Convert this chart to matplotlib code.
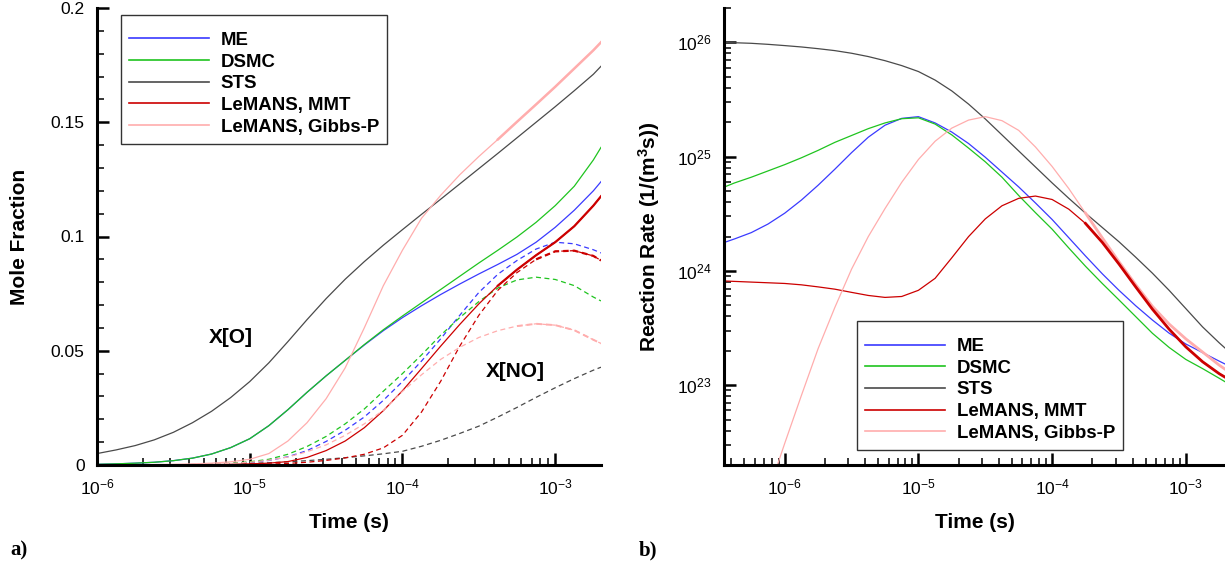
import numpy as np
import matplotlib
matplotlib.use('Agg')
import matplotlib.pyplot as plt
from matplotlib.ticker import MultipleLocator, FuncFormatter, LogLocator, NullFormatter

plt.rcParams['font.family'] = ['Liberation Sans', 'DejaVu Sans']
plt.rcParams['mathtext.fontset'] = 'custom'
plt.rcParams['mathtext.rm'] = 'Liberation Sans'
plt.rcParams['mathtext.it'] = 'Liberation Sans:italic'
plt.rcParams['mathtext.bf'] = 'Liberation Sans:bold'

labels = ['ME', 'DSMC', 'STS', 'LeMANS, MMT', 'LeMANS, Gibbs-P']
colors = ['#3a3aff', '#1fc41f', '#4a4a4a', '#cc0000', '#ffadad']

# a) mole fractions, time given as log10(t)
logt_a = [-6, -5.875, -5.75, -5.625, -5.5, -5.375, -5.25, -5.125, -5.0, -4.875, -4.75, -4.625, -4.5, -4.375,
          -4.25, -4.125, -4.0, -3.875, -3.75, -3.625, -3.5, -3.375, -3.25, -3.125, -3.0, -2.875, -2.75, -2.7]
xo_me = [0.0003, 0.0005, 0.0008, 0.0012, 0.0019, 0.003, 0.0048, 0.0076, 0.0115, 0.0172, 0.0242, 0.0318, 0.039, 0.0458,
         0.0525, 0.0588, 0.0645, 0.0697, 0.0746, 0.0792, 0.0836, 0.0878, 0.0922, 0.0975, 0.1040, 0.1115, 0.1200, 0.1240]
xo_dsmc = [0.0003, 0.0005, 0.0008, 0.0012, 0.0019, 0.003, 0.0048, 0.0076, 0.0115, 0.0172, 0.0242, 0.0318, 0.039, 0.0458,
           0.0527, 0.0592, 0.0652, 0.0710, 0.0768, 0.0826, 0.0884, 0.0940, 0.0998, 0.1062, 0.1135, 0.1220, 0.1335, 0.1390]
xo_sts = [0.005, 0.0066, 0.0085, 0.011, 0.0143, 0.0185, 0.0235, 0.0295, 0.0365, 0.0447, 0.054, 0.0636, 0.0728, 0.0813,
          0.0890, 0.0962, 0.1030, 0.1097, 0.1163, 0.1230, 0.1297, 0.1364, 0.1432, 0.1500, 0.1568, 0.1638, 0.1710, 0.1745]
xo_mmt = [0, 0, 0, 0, 0.0001, 0.0001, 0.0002, 0.0003, 0.0005, 0.0008, 0.0015, 0.0033, 0.0063, 0.0105,
          0.0163, 0.0238, 0.0325, 0.0422, 0.0520, 0.0615, 0.0705, 0.0785, 0.0855, 0.0918, 0.0975, 0.1045, 0.1135, 0.1176]
xo_gibbs = [0, 0, 0.0001, 0.0002, 0.0003, 0.0005, 0.0008, 0.0014, 0.0025, 0.0050, 0.0105, 0.0185, 0.0290, 0.0425,
            0.0600, 0.0785, 0.0940, 0.1080, 0.1180, 0.1270, 0.1350, 0.1425, 0.1502, 0.1578, 0.1655, 0.1735, 0.1815, 0.1850]

xno_me = [0, 0, 0, 0, 0, 0.0001, 0.0003, 0.0006, 0.0011, 0.002, 0.0036, 0.0063, 0.0103, 0.0152,
          0.0210, 0.0283, 0.0365, 0.0455, 0.0552, 0.0655, 0.0755, 0.0835, 0.0895, 0.0945, 0.0975, 0.0968, 0.0942, 0.0928]
xno_dsmc = [0, 0, 0, 0.0001, 0.0001, 0.0002, 0.0004, 0.0008, 0.0014, 0.0025, 0.0047, 0.0081, 0.0125, 0.0180,
            0.0245, 0.0323, 0.0400, 0.0482, 0.0568, 0.0645, 0.0715, 0.0775, 0.0810, 0.0822, 0.0812, 0.0785, 0.0735, 0.0718]
xno_sts = [0, 0, 0, 0.0001, 0.0001, 0.0002, 0.0003, 0.0005, 0.0007, 0.001, 0.0014, 0.0019, 0.0025, 0.0032,
           0.0040, 0.0049, 0.0060, 0.0082, 0.0108, 0.0138, 0.0170, 0.0210, 0.0252, 0.0296, 0.0338, 0.0378, 0.0415, 0.0428]
xno_mmt = [0, 0, 0, 0, 0, 0, 0, 0.0001, 0.0002, 0.0004, 0.0007, 0.0012, 0.0020, 0.0031,
           0.0047, 0.0075, 0.0130, 0.0232, 0.0366, 0.0520, 0.0655, 0.0765, 0.0842, 0.0900, 0.0935, 0.0938, 0.0915, 0.0895]
xno_gibbs = [0, 0, 0, 0.0001, 0.0001, 0.0002, 0.0004, 0.0007, 0.0012, 0.0021, 0.0035, 0.0058, 0.0088, 0.0130,
             0.0180, 0.0240, 0.0322, 0.0395, 0.0462, 0.0515, 0.0558, 0.0588, 0.0608, 0.0618, 0.0612, 0.0590, 0.0548, 0.0532]

# b) reaction rates, log10(t) and log10(rate)
logt_b = [-6.454, -6.375, -6.25, -6.125, -6.0, -5.875, -5.75, -5.625, -5.5, -5.375, -5.25, -5.125, -5.0, -4.875, -4.75, -4.625,
          -4.5, -4.375, -4.25, -4.125, -4.0, -3.875, -3.75, -3.625, -3.5, -3.375, -3.25, -3.125, -3.0, -2.875, -2.75, -2.707]
logr_me = [24.248, 24.28, 24.335, 24.41, 24.505, 24.62, 24.75, 24.89, 25.035, 25.17, 25.275, 25.335, 25.35, 25.295, 25.215, 25.115,
           24.995, 24.865, 24.735, 24.595, 24.45, 24.29, 24.13, 23.975, 23.83, 23.695, 23.57, 23.455, 23.36, 23.285, 23.21, 23.185]
logr_dsmc = [24.733, 24.77, 24.82, 24.875, 24.93, 24.99, 25.055, 25.125, 25.185, 25.245, 25.295, 25.332, 25.34, 25.285, 25.19, 25.075,
             24.955, 24.82, 24.66, 24.51, 24.365, 24.2, 24.04, 23.89, 23.746, 23.6, 23.454, 23.33, 23.225, 23.145, 23.06, 23.03]
logr_sts = [26.0, 25.997, 25.992, 25.983, 25.972, 25.96, 25.945, 25.928, 25.905, 25.876, 25.840, 25.797, 25.745, 25.670, 25.575, 25.46,
            25.33, 25.19, 25.05, 24.91, 24.77, 24.635, 24.505, 24.38, 24.255, 24.12, 23.98, 23.83, 23.67, 23.51, 23.37, 23.325]
logr_mmt = [23.912, 23.908, 23.902, 23.896, 23.89, 23.878, 23.86, 23.84, 23.812, 23.785, 23.768, 23.776, 23.83, 23.935, 24.115, 24.3,
            24.455, 24.57, 24.635, 24.655, 24.625, 24.54, 24.415, 24.25, 24.06, 23.86, 23.665, 23.49, 23.335, 23.205, 23.1, 23.07]
logt_b_gibbs = [-6.055, -6.0, -5.875, -5.75, -5.625, -5.5, -5.375, -5.25, -5.125, -5.0, -4.875, -4.75, -4.625, -4.5, -4.375,
                -4.25, -4.125, -4.0, -3.875, -3.75, -3.625, -3.5, -3.375, -3.25, -3.125, -3.0, -2.875, -2.75, -2.707]
logr_gibbs = [22.30, 22.49, 22.91, 23.32, 23.68, 24.015, 24.30, 24.545, 24.775, 24.975, 25.135, 25.25, 25.32, 25.35, 25.315,
              25.23, 25.085, 24.914, 24.72, 24.505, 24.29, 24.08, 23.88, 23.69, 23.535, 23.405, 23.29, 23.175, 23.14]

t_a = 10.0 ** np.array(logt_a)
t_b = 10.0 ** np.array(logt_b)
t_bg = 10.0 ** np.array(logt_b_gibbs)
rate = [10.0 ** np.array(r) for r in (logr_me, logr_dsmc, logr_sts, logr_mmt)]
rate_gibbs = 10.0 ** np.array(logr_gibbs)

fig = plt.figure(figsize=(12.25, 5.65), dpi=100)
ax1 = fig.add_axes([97 / 1225, 100 / 565, 504 / 1225, 457 / 565])
ax2 = fig.add_axes([724 / 1225, 100 / 565, 501 / 1225, 457 / 565])

lw = 0.9
dash = (0, (4, 2.8))

o_series = [xo_me, xo_dsmc, xo_sts, xo_mmt, xo_gibbs]
no_series = [xno_me, xno_dsmc, xno_sts, xno_mmt, xno_gibbs]
handles = []
for i in range(5):
    h, = ax1.plot(t_a, o_series[i], color=colors[i], lw=lw, label=labels[i])
    ax1.plot(t_a, no_series[i], color=colors[i], lw=lw, linestyle=dash)
    handles.append(h)
# the LeMANS curves are drawn heavier at late times
ax1.plot(t_a[21:], xo_gibbs[21:], color=colors[4], lw=1.8)
ax1.plot(t_a[21:], xo_mmt[21:], color=colors[3], lw=1.6)
ax1.plot(t_a[23:], xno_mmt[23:], color=colors[3], lw=1.6, linestyle=(0, (2.5, 1.8)))
ax1.plot(t_a[22:], xno_gibbs[22:], color=colors[4], lw=1.4, linestyle=(0, (3, 2)))

ax1.set_xscale('log')
ax1.set_xlim(1e-6, 10 ** -2.7)
ax1.set_ylim(0, 0.2)
ax1.yaxis.set_major_locator(MultipleLocator(0.05))
ax1.yaxis.set_minor_locator(MultipleLocator(0.01))
ax1.yaxis.set_major_formatter(FuncFormatter(lambda v, p: '%g' % round(v, 3)))
ax1.text(10 ** -5.125, 0.056, 'X[O]', fontsize=15, fontweight='bold', ha='center', va='center')
ax1.text(10 ** -3.26, 0.041, 'X[NO]', fontsize=15, fontweight='bold', ha='center', va='center')
ax1.set_ylabel('Mole Fraction', fontsize=15, fontweight='bold')
ax1.set_xlabel('Time (s)', fontsize=15, fontweight='bold')

handles2 = []
for i in range(4):
    h, = ax2.plot(t_b, rate[i], color=colors[i], lw=lw, label=labels[i])
    handles2.append(h)
h, = ax2.plot(t_bg, rate_gibbs, color=colors[4], lw=lw, label=labels[4])
handles2.append(h)
ax2.plot(t_bg[19:], rate_gibbs[19:], color=colors[4], lw=2.0)
ax2.plot(t_b[22:], rate[3][22:], color=colors[3], lw=2.0)

ax2.set_xscale('log')
ax2.set_yscale('log')
ax2.set_xlim(10 ** -6.454, 10 ** -2.707)
ax2.set_ylim(2e22, 2e26)
ax2.set_ylabel(r'Reaction Rate (1/(m$^{\mathbf{3}}$s))', fontsize=15, fontweight='bold')
ax2.set_xlabel('Time (s)', fontsize=15, fontweight='bold')

for ax in (ax1, ax2):
    ax.spines['top'].set_visible(False)
    ax.spines['right'].set_visible(False)
    ax.spines['left'].set_linewidth(2.2)
    ax.spines['bottom'].set_linewidth(2.2)
    ax.tick_params(which='major', direction='in', length=8.5, width=1.8, labelsize=12.5, pad=9)
    ax.tick_params(which='minor', direction='in', length=5, width=1.1)
    ax.xaxis.set_major_locator(LogLocator(base=10, numticks=20))
    ax.xaxis.set_minor_locator(LogLocator(base=10, subs=np.arange(2, 10), numticks=100))
    ax.xaxis.set_minor_formatter(NullFormatter())
    ax.yaxis.label.set_verticalalignment('center')
    ax.xaxis.label.set_verticalalignment('center')

ax2.yaxis.set_major_locator(LogLocator(base=10, numticks=20))
ax2.yaxis.set_minor_locator(LogLocator(base=10, subs=np.arange(2, 10), numticks=100))
ax2.yaxis.set_minor_formatter(NullFormatter())

ax1.yaxis.set_label_coords(-0.153, 0.5)
ax1.xaxis.set_label_coords(0.5, -0.125)
ax2.yaxis.set_label_coords(-0.150, 0.5)
ax2.xaxis.set_label_coords(0.5, -0.125)

legend_kw = dict(loc='upper left', prop={'weight': 'bold', 'size': 13.4}, frameon=True,
                 fancybox=False, edgecolor='black', handlelength=4.3, handletextpad=0.6,
                 labelspacing=0.25, borderpad=0.45, borderaxespad=0,
                 title=' ', title_fontsize=2.5)
leg1 = ax1.legend(handles, labels, bbox_to_anchor=(0.0476, 0.985), **legend_kw)
leg2 = ax2.legend(handles2, labels, bbox_to_anchor=(0.2655, 0.315), **legend_kw)
for leg in (leg1, leg2):
    leg.get_frame().set_linewidth(1.0)
    for line in leg.get_lines():
        line.set_linewidth(1.2)

fig.text(19 / 1225, 1 - 550 / 565, 'a)', family='Liberation Serif', fontweight='bold', fontsize=15, ha='center', va='center')
fig.text(648 / 1225, 1 - 550 / 565, 'b)', family='Liberation Serif', fontweight='bold', fontsize=15, ha='center', va='center')

plt.savefig('out.png', dpi=100)
